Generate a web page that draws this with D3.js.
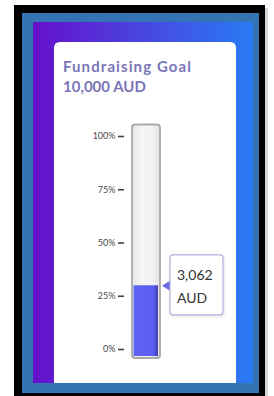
<!DOCTYPE html>
<html>
<head>
<meta charset="utf-8">
<script src="https://cdn.jsdelivr.net/npm/d3@7"></script>
<style>
  html, body { margin: 0; padding: 0; background: #ffffff; }
  svg { display: block; }
</style>
</head>
<body>
<div id="chart"></div>
<script>
// ---- data ----
const goal = 10000;
const raised = 3062;
const currency = "AUD";
const titleLines = ["Fundraising Goal", "10,000 AUD"];
const tickValues = [0, 0.25, 0.5, 0.75, 1];
const tickLabels = ["0%", "25%", "50%", "75%", "100%"];

// ---- layout ----
const W = 274, H = 396;
const svg = d3.select("#chart").append("svg").attr("width", W).attr("height", H);
const defs = svg.append("defs");

const bg = defs.append("linearGradient").attr("id", "bgGrad")
  .attr("x1", "0%").attr("y1", "0%").attr("x2", "100%").attr("y2", "0%");
bg.append("stop").attr("offset", "0%").attr("stop-color", "#6710cb");
bg.append("stop").attr("offset", "100%").attr("stop-color", "#297bf4");

const tubeG = defs.append("linearGradient").attr("id", "tubeGrad")
  .attr("x1", "0%").attr("y1", "0%").attr("x2", "100%").attr("y2", "0%");
tubeG.append("stop").attr("offset", "0%").attr("stop-color", "#e6e6e6");
tubeG.append("stop").attr("offset", "35%").attr("stop-color", "#f5f5f5");
tubeG.append("stop").attr("offset", "70%").attr("stop-color", "#f3f3f3");
tubeG.append("stop").attr("offset", "100%").attr("stop-color", "#e2e2e2");

const fillG = defs.append("linearGradient").attr("id", "fillGrad")
  .attr("x1", "0%").attr("y1", "0%").attr("x2", "100%").attr("y2", "0%");
fillG.append("stop").attr("offset", "0%").attr("stop-color", "#6264f2");
fillG.append("stop").attr("offset", "82%").attr("stop-color", "#5a5df0");
fillG.append("stop").attr("offset", "100%").attr("stop-color", "#3a3cae");

const sh = defs.append("filter").attr("id", "shadow").attr("x", "-20%").attr("y", "-20%").attr("width", "150%").attr("height", "150%");
sh.append("feDropShadow").attr("dx", 0.5).attr("dy", 1).attr("stdDeviation", 1.2)
  .attr("flood-color", "#000").attr("flood-opacity", 0.15);

// frame layers
svg.append("rect").attr("x", 14).attr("y", 5).attr("width", 251).attr("height", 391).attr("fill", "#000");
svg.append("rect").attr("x", 265).attr("y", 8).attr("width", 3).attr("height", 388).attr("fill", "#bbb").attr("opacity", 0.6);
svg.append("rect").attr("x", 22).attr("y", 13).attr("width", 237).attr("height", 380).attr("fill", "#3574b4");
svg.append("rect").attr("x", 33).attr("y", 22).attr("width", 220).attr("height", 361).attr("fill", "url(#bgGrad)");

// card with rounded top corners
const cx0 = 54, cy0 = 42, cx1 = 236, cy1 = 383, r = 6;
svg.append("path")
  .attr("d", `M${cx0},${cy1} L${cx0},${cy0 + r} Q${cx0},${cy0} ${cx0 + r},${cy0} L${cx1 - r},${cy0} Q${cx1},${cy0} ${cx1},${cy0 + r} L${cx1},${cy1} Z`)
  .attr("fill", "#ffffff");

// title
const title = svg.append("g").attr("font-family", "Lato, 'Open Sans', sans-serif")
  .attr("font-weight", 700).attr("font-size", 15).attr("fill", "#7a76b8");
title.selectAll("text").data(titleLines).join("text")
  .attr("x", 63).attr("y", (d, i) => 71.5 + i * 20)
  .each(function (d, i) {
    if (i === 0) d3.select(this).attr("textLength", 128).attr("lengthAdjust", "spacing");
  })
  .text(d => d);

// scale
const y = d3.scaleLinear().domain([0, 1]).range([349, 136]);
const pct = raised / goal;

// tube
const tubeX = 132, tubeW = 28;
const tubeTop = y(1) - 11.5, tubeBot = y(0) + 9;
svg.append("rect").attr("x", tubeX).attr("y", tubeTop)
  .attr("width", tubeW).attr("height", tubeBot - tubeTop)
  .attr("rx", 3).attr("fill", "url(#tubeGrad)")
  .attr("stroke", "#a9a9a9").attr("stroke-width", 1.8);

// fill
svg.append("rect").attr("x", tubeX + 1.5).attr("y", y(pct) + 1.5)
  .attr("width", tubeW - 3.5).attr("height", (tubeBot - 2) - (y(pct) + 1.5))
  .attr("fill", "url(#fillGrad)");

// axis
const axis = d3.axisLeft(y).tickValues(tickValues)
  .tickFormat((d, i) => tickLabels[i]).tickSize(6).tickPadding(2.5);
const ax = svg.append("g").attr("transform", "translate(124,0)").call(axis);
ax.select(".domain").remove();
ax.selectAll(".tick line").attr("stroke", "#444").attr("stroke-width", 1.6);
ax.selectAll(".tick text").attr("font-family", "Lato, 'Open Sans', sans-serif")
  .attr("font-size", 9).attr("fill", "#4a4a4a").attr("font-weight", 400);

// callout
const py = y(pct) + 2;
const bx = 170, bw = 53, bh = 60, by = py - 31;
svg.append("path")
  .attr("d", `M${bx - 8},${py} L${bx},${py - 5} L${bx},${py + 5} Z`)
  .attr("fill", "#6a6ae4");
svg.append("rect").attr("x", bx).attr("y", by).attr("width", bw).attr("height", bh)
  .attr("rx", 3).attr("fill", "#fff").attr("stroke", "#b3b3e4").attr("stroke-width", 1.2)
  .attr("filter", "url(#shadow)");
const callLines = [d3.format(",")(raised), currency];
svg.append("g").attr("font-family", "Lato, 'Open Sans', sans-serif")
  .attr("font-size", 14).attr("fill", "#333")
  .selectAll("text").data(callLines).join("text")
  .attr("x", bx + 7).attr("y", (d, i) => by + 25 + i * 23).text(d => d);
</script>
</body>
</html>
